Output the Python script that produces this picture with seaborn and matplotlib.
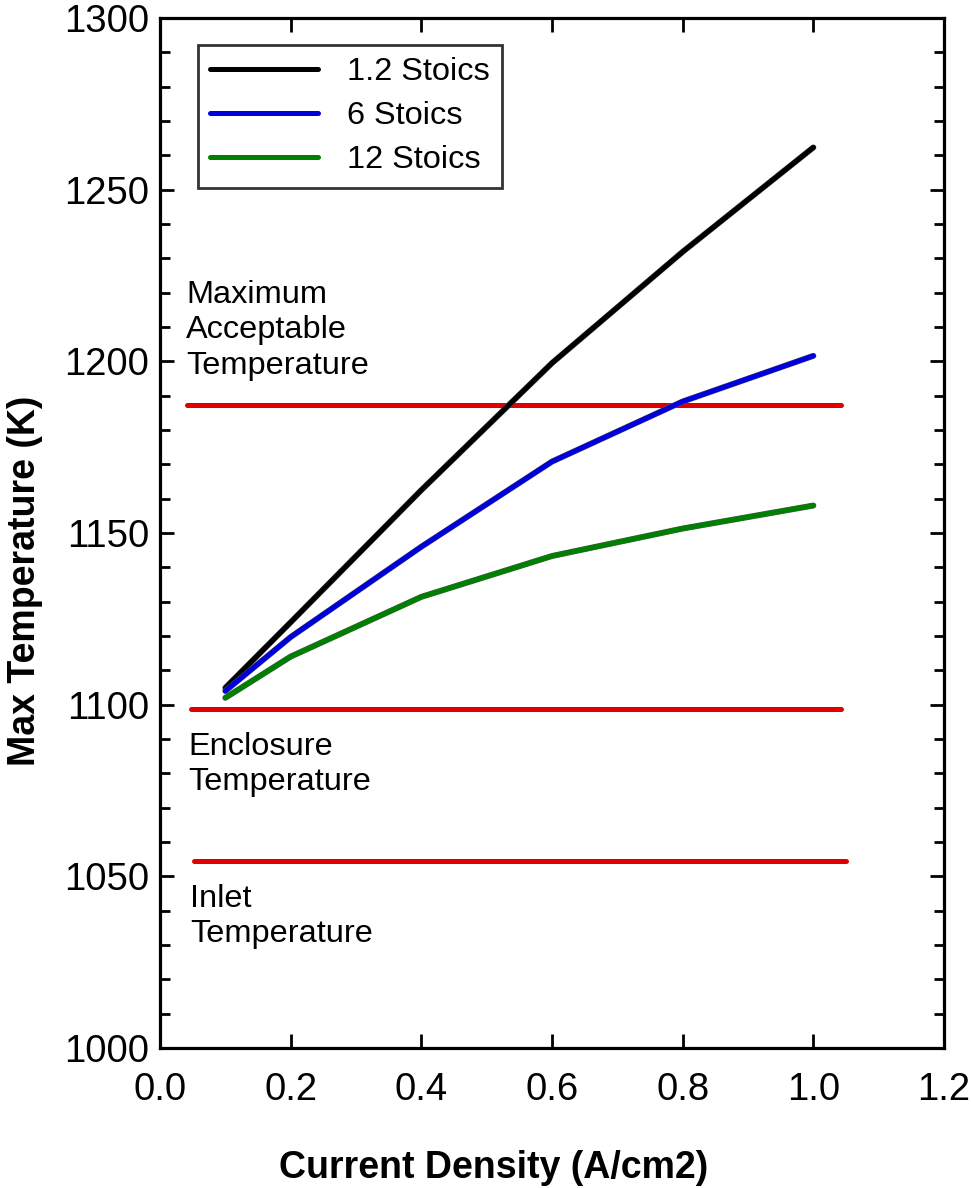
import matplotlib
matplotlib.use("Agg")
import matplotlib.pyplot as plt
import matplotlib.patheffects as pe
from matplotlib.lines import Line2D
from matplotlib.ticker import MultipleLocator
import pandas as pd
import seaborn as sns

# Current density (A/cm2)
current_density = [0.1, 0.2, 0.4, 0.6, 0.8, 1.0]

# Max temperature (K) for each stoichiometry
temp_1_2_stoics = [1104.9, 1124.0, 1162.5, 1199.5, 1231.9, 1262.3]
temp_6_stoics = [1104.0, 1119.7, 1146.0, 1170.8, 1188.3, 1201.6]
temp_12_stoics = [1102.0, 1114.0, 1131.4, 1143.3, 1151.3, 1158.0]

series_names = ["1.2 Stoics", "6 Stoics", "12 Stoics"]
series_colors = ["#000000", "#0000dd", "#008000"]

# Reference temperature levels (K) and their spans along the x axis
ref_levels = [1187.3, 1098.7, 1054.5]
ref_x_start = [0.041, 0.047, 0.052]
ref_x_end = [1.043, 1.043, 1.050]
ref_labels = ["Maximum\nAcceptable\nTemperature", "Enclosure\nTemperature", "Inlet\nTemperature"]
ref_label_x = [0.040, 0.043, 0.046]
ref_label_y = [1209.0, 1082.6, 1038.3]

x_ticks = [0.0, 0.2, 0.4, 0.6, 0.8, 1.0, 1.2]
y_ticks = [1000, 1050, 1100, 1150, 1200, 1250, 1300]

df = pd.DataFrame({
    "Current Density": current_density * 3,
    "Max Temperature": temp_1_2_stoics + temp_6_stoics + temp_12_stoics,
    "Series": sum([[n] * len(current_density) for n in series_names], []),
})

sns.set_theme(style="ticks")
plt.rcParams["font.family"] = ["Liberation Sans", "DejaVu Sans"]

fig = plt.figure(figsize=(9.71, 11.88), dpi=100)
ax = fig.add_axes([160 / 971, 1 - 1048 / 1188, (944 - 160) / 971, (1048 - 18) / 1188])

# Reference temperature lines
for lvl, x0, x1 in zip(ref_levels, ref_x_start, ref_x_end):
    ax.plot([x0, x1], [lvl, lvl], color="#e00000", lw=3.6,
            solid_capstyle="round", zorder=2)

sns.lineplot(data=df, x="Current Density", y="Max Temperature", hue="Series",
             hue_order=series_names, palette=series_colors, lw=3.6, ax=ax,
             legend=False, zorder=3)
for line in ax.get_lines()[len(ref_levels):]:
    line.set_solid_capstyle("round")
    line.set_solid_joinstyle("round")
    line.set_path_effects([pe.Stroke(linewidth=4.3, foreground="#555555"), pe.Normal()])

for txt, tx, ty in zip(ref_labels, ref_label_x, ref_label_y):
    ax.text(tx, ty, txt, fontsize=23.4, va="center", ha="left",
            linespacing=1.24, color="black")

# Legend
handles = [Line2D([], [], color=c, lw=3.6, solid_capstyle="round") for c in series_colors]
leg = ax.legend(handles, series_names, loc="upper left",
                bbox_to_anchor=(38 / 784, 1 - 27 / 1030), fontsize=23.4,
                frameon=True, fancybox=False, edgecolor="black",
                handlelength=3.3, handletextpad=0.9, labelspacing=0.43,
                borderpad=0.38, borderaxespad=0)
leg.get_frame().set_linewidth(2.0)
for t in leg.get_texts():
    t.set_color("black")

ax.set_xlim(0.0, 1.2)
ax.set_ylim(1000, 1300)
ax.set_xticks(x_ticks)
ax.set_xticklabels([f"{v:.1f}" for v in x_ticks])
ax.set_yticks(y_ticks)
ax.set_yticklabels([str(v) for v in y_ticks])
ax.yaxis.set_minor_locator(MultipleLocator(10))

ax.set_xlabel("Current Density (A/cm2)", fontsize=27, fontweight="bold", color="black")
ax.set_ylabel("Max Temperature (K)", fontsize=27, fontweight="bold", color="black")
ax.xaxis.set_label_coords(0.426, -0.099)
ax.yaxis.set_label_coords(-0.149, 0.454)

for s in ax.spines.values():
    s.set_linewidth(2.3)
    s.set_color("black")
    s.set_visible(True)

ax.tick_params(axis="both", which="major", direction="in", length=10, width=2,
               labelsize=27.5, top=True, right=True, colors="black")
ax.tick_params(axis="x", which="major", pad=17)
ax.tick_params(axis="y", which="major", pad=8)
ax.tick_params(axis="y", which="minor", direction="in", length=7, width=2,
               left=True, right=True, colors="black")
ax.tick_params(axis="x", which="minor", bottom=False, top=False)

fig.savefig("out.png", dpi=100, facecolor="white")
